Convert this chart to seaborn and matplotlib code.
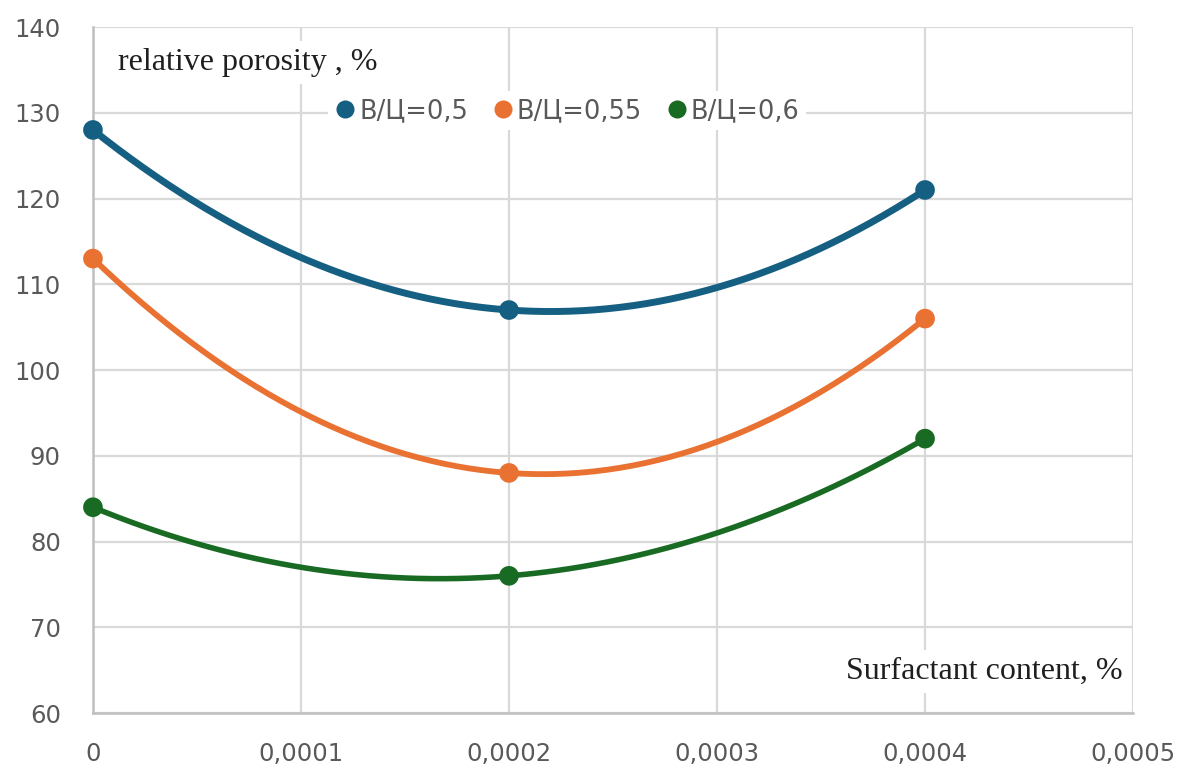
import numpy as np
import pandas as pd
import matplotlib
matplotlib.use("Agg")
import matplotlib.pyplot as plt
import seaborn as sns
from matplotlib.lines import Line2D
from matplotlib.ticker import FuncFormatter

# ---- data ----
surfactant = [0.0, 0.0002, 0.0004]
series_names = ["В/Ц=0,5", "В/Ц=0,55", "В/Ц=0,6"]
porosity_05 = [128, 107, 121]
porosity_055 = [113, 88, 106]
porosity_06 = [84, 76, 92]
x_ticks = [0, 0.0001, 0.0002, 0.0003, 0.0004, 0.0005]
y_ticks = [60, 70, 80, 90, 100, 110, 120, 130, 140]

# ---- style ----
colors = ["#156082", "#E97132", "#196B24"]
line_widths = [5.0, 4.2, 4.0]

sns.set_theme(style="white")
plt.rcParams["font.family"] = ["DejaVu Sans"]

fig = plt.figure(figsize=(11.84, 7.69), dpi=100)
ax = fig.add_axes([0.0785, 0.0728, 0.8785, 0.892])

all_series = [porosity_05, porosity_055, porosity_06]
pts_rows = []
for name, vals, color, lw in zip(series_names, all_series, colors, line_widths):
    xs = np.array(surfactant) * 1e4
    # smoothed line through the three points (quadratic, like the chart's smoothing)
    coef = np.polyfit(xs, vals, deg=len(xs) - 1)
    xd = np.linspace(xs.min(), xs.max(), 200)
    df_c = pd.DataFrame({"x": xd / 1e4, "y": np.polyval(coef, xd)})
    sns.lineplot(data=df_c, x="x", y="y", sort=False, ax=ax, color=color,
                 linewidth=lw, zorder=3, legend=False)
    for xv, yv in zip(surfactant, vals):
        pts_rows.append({"x": xv, "y": yv, "series": name})

df_pts = pd.DataFrame(pts_rows)
sns.scatterplot(data=df_pts, x="x", y="y", hue="series", palette=colors,
                hue_order=series_names, s=200, edgecolor="none", ax=ax,
                zorder=4, legend=False, clip_on=False)

ax.set_xlim(0, 0.0005)
ax.set_ylim(60, 140)
ax.set_xticks(x_ticks)
ax.set_yticks(y_ticks)
ax.xaxis.set_major_formatter(FuncFormatter(
    lambda v, p: "0" if abs(v) < 1e-12 else f"{v:.4f}".replace(".", ",")))
ax.grid(True, color="#d9d9d9", linewidth=1.6)
ax.set_axisbelow(True)
for s in ["top", "right"]:
    ax.spines[s].set_visible(False)
for s in ["left", "bottom"]:
    ax.spines[s].set_color("#bfbfbf")
    ax.spines[s].set_linewidth(1.8)
ax.tick_params(axis="both", length=0, labelsize=17.5, labelcolor="#595959")
ax.tick_params(axis="x", pad=21)
ax.tick_params(axis="y", pad=23)
ax.set_xlabel("")
ax.set_ylabel("")

# axis titles inside the plot, serif with white boxes
ax.text(0.024, 0.949, "relative porosity , %", transform=ax.transAxes,
        family="Liberation Serif", fontsize=23, color="#1f1f1f", ha="left", va="center",
        bbox=dict(facecolor="white", edgecolor="none", pad=5), zorder=5)
ax.text(0.990, 0.061, "Surfactant content, %", transform=ax.transAxes,
        family="Liberation Serif", fontsize=23, color="#1f1f1f", ha="right", va="center",
        bbox=dict(facecolor="white", edgecolor="none", pad=5), zorder=5)

handles = [Line2D([0], [0], marker="o", linestyle="none", markersize=13,
                  markerfacecolor=c, markeredgecolor="none") for c in colors]
leg = ax.legend(handles, series_names, loc="center", bbox_to_anchor=(0.456, 0.878),
                ncol=3, frameon=True, fontsize=18.5, handletextpad=0.15,
                columnspacing=0.95, borderpad=0.25, handlelength=0.8)
leg.get_frame().set_facecolor("white")
leg.get_frame().set_edgecolor("none")
leg.get_frame().set_alpha(1.0)
leg.set_zorder(6)
for t in leg.get_texts():
    t.set_color("#595959")

fig.savefig("out.png", dpi=100, facecolor="white")
